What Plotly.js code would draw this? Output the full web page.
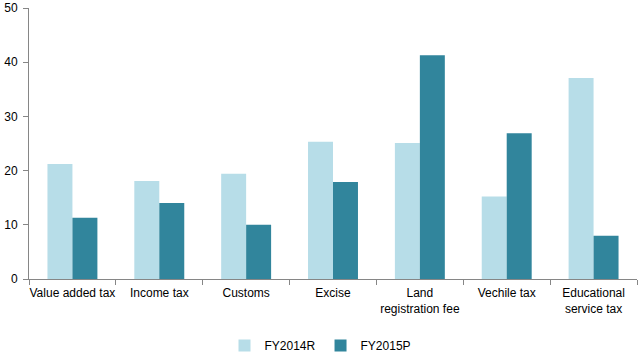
<!DOCTYPE html>
<html>
<head>
<meta charset="utf-8">
<script src="https://cdn.plot.ly/plotly-3.0.1.min.js"></script>
<style>
html,body{margin:0;padding:0;background:#fff;}
#chart{width:641px;height:360px;}
</style>
</head>
<body>
<div id="chart"></div>
<script>
const categories = ["Value added tax", "Income tax", "Customs", "Excise", "Land<br>registration fee", "Vechile tax", "Educational<br>service tax"];
const fy2014R = [21.2, 18.1, 19.4, 25.3, 25.1, 15.2, 37.1];
const fy2015P = [11.3, 14.0, 10.0, 17.9, 41.3, 26.9, 8.0];
const yTicks = [0, 10, 20, 30, 40, 50];

const font = {family: "Liberation Sans, Arial, sans-serif", size: 12, color: "#000"};

const traces = [
  {type: "bar", name: "FY2014R", x: categories, y: fy2014R, marker: {color: "#B7DDE8"}},
  {type: "bar", name: "FY2015P", x: categories, y: fy2015P, marker: {color: "#31859C"}}
];

const layout = {
  width: 641, height: 360,
  margin: {l: 29, r: 4, t: 8, b: 81, pad: 0},
  paper_bgcolor: "#fff", plot_bgcolor: "#fff",
  font: font,
  barmode: "group",
  bargap: 0.425,
  bargroupgap: 0,
  showlegend: true,
  legend: {orientation: "h", xref: "container", yref: "container", x: 0.5, xanchor: "center", y: 0.04, yanchor: "middle", font: font, itemwidth: 30, traceorder: "normal"},
  xaxis: {
    type: "category",
    showline: true, linecolor: "#868686", linewidth: 1,
    ticks: "outside", tickson: "boundaries", ticklen: 5, tickcolor: "#868686",
    showgrid: false, zeroline: false, tickangle: 0, ticklabelstandoff: 3,
    tickfont: font, automargin: false
  },
  yaxis: {
    range: [0, 50], tickvals: yTicks, ticktext: yTicks.map(String),
    showline: true, linecolor: "#868686", linewidth: 1,
    ticks: "outside", ticklen: 5, tickcolor: "#868686",
    showgrid: false, zeroline: false, ticklabelstandoff: 3,
    tickfont: font, automargin: false
  }
};

Plotly.newPlot("chart", traces, layout, {displayModeBar: false, staticPlot: true});
</script>
</body>
</html>
